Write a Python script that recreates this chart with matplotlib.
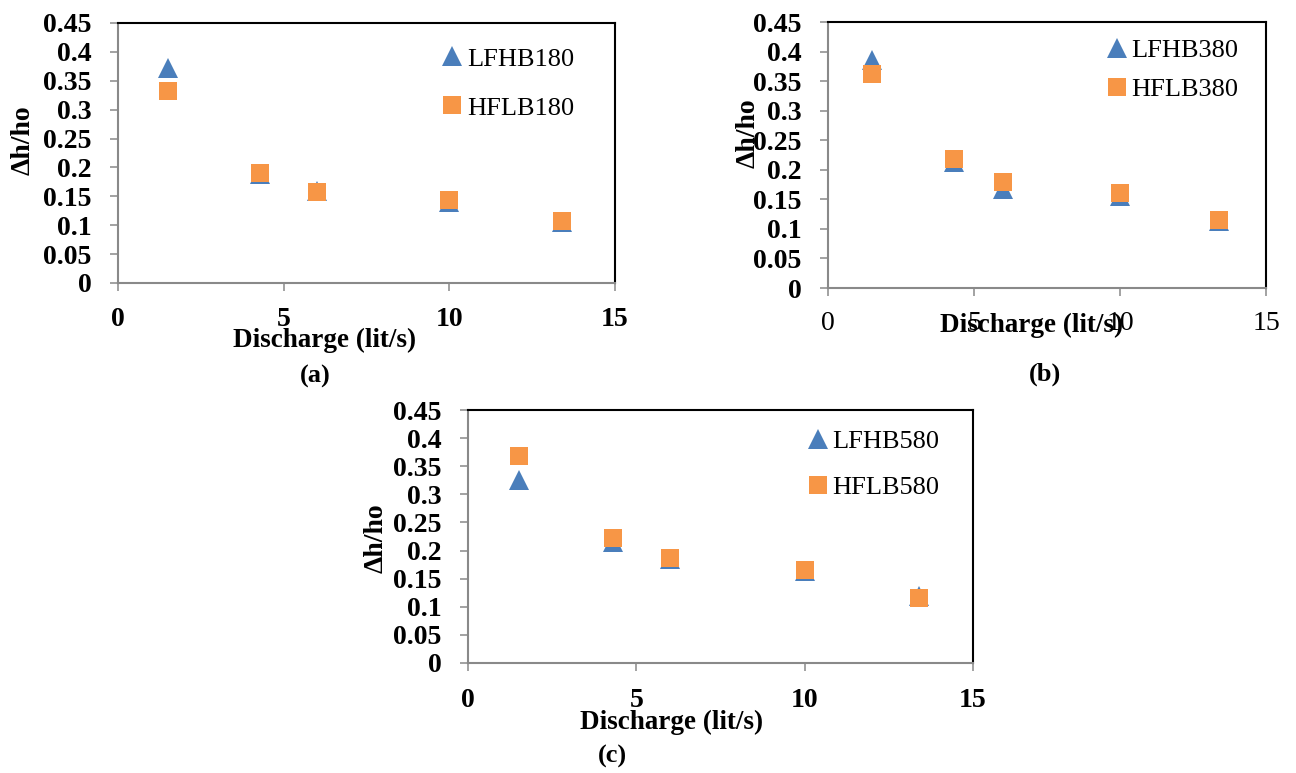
import matplotlib

matplotlib.use("Agg")
import matplotlib.pyplot as plt  # noqa: E402

plt.rcParams["font.family"] = ["Liberation Serif", "DejaVu Serif"]

BLUE = "#4A7EBB"
ORANGE = "#F79646"
GREY = "#898989"

# discharge (lit/s)
Q = [1.5, 4.3, 6.0, 10.0, 13.4]

lfhb180 = [0.372, 0.188, 0.160, 0.141, 0.106]
hflb180 = [0.333, 0.191, 0.158, 0.144, 0.107]
lfhb380 = [0.385, 0.214, 0.168, 0.156, 0.114]
hflb380 = [0.362, 0.218, 0.179, 0.160, 0.115]
lfhb580 = [0.325, 0.215, 0.185, 0.163, 0.119]
hflb580 = [0.369, 0.222, 0.187, 0.165, 0.116]

xticks = [0, 5, 10, 15]
yticks = [0, 0.05, 0.1, 0.15, 0.2, 0.25, 0.3, 0.35, 0.4, 0.45]
ytick_labels = ["0", "0.05", "0.1", "0.15", "0.2", "0.25", "0.3", "0.35", "0.4", "0.45"]

W, H = 1296, 773


def box(l, r, t, b):
    # pixel box -> figure fraction rect
    return [l / W, 1 - b / H, (r - l) / W, (b - t) / H]


def fx(x):
    return x / W


def fy(y):
    return 1 - y / H


fig = plt.figure(figsize=(W / 100, H / 100), dpi=100)

panels = [
    dict(rect=box(118, 615, 23, 283), tri=lfhb180, sq=hflb180,
         names=("LFHB180", "HFLB180"), leg=(0.654, 0.768), lsp=0.97,
         ylab=(23, 140), xlab=(325, 340), cap=(315, 376), cap_txt="(a)",
         xbold=True, xpad=11.5),
    dict(rect=box(828, 1266, 22, 288), tri=lfhb380, sq=hflb380,
         names=("LFHB380", "HFLB380"), leg=(0.638, 0.82), lsp=0.61,
         ylab=(748, 133), xlab=(1032, 325), cap=(1045, 374), cap_txt="(b)",
         xbold=False, xpad=10.5),
    dict(rect=box(468, 973, 410, 663), tri=lfhb580, sq=hflb580,
         names=("LFHB580", "HFLB580"), leg=(0.675, 0.785), lsp=0.83,
         ylab=(376, 538), xlab=(672, 722), cap=(612, 756), cap_txt="(c)",
         xbold=True, xpad=12),
]

for p in panels:
    ax = fig.add_axes(p["rect"])
    ax.plot(Q, p["tri"], "^", color=BLUE, ms=14, mew=0, zorder=3, label=p["names"][0])
    ax.plot(Q, p["sq"], "s", color=ORANGE, ms=13.5, mew=0, zorder=4, label=p["names"][1])
    ax.set_xlim(0, 15)
    ax.set_ylim(0, 0.45)
    ax.set_xticks(xticks)
    ax.set_xticklabels([str(t) for t in xticks], fontsize=20,
                       fontweight="bold" if p["xbold"] else "normal")
    ax.set_yticks(yticks)
    ax.set_yticklabels(ytick_labels, fontsize=20, fontweight="bold")
    ax.tick_params(axis="both", direction="out", length=6, width=1.1, color=GREY)
    ax.tick_params(axis="y", pad=13)
    ax.tick_params(axis="x", pad=p["xpad"])
    for s in ("left", "bottom"):
        ax.spines[s].set_color(GREY)
        ax.spines[s].set_linewidth(1.5)
    for s in ("top", "right"):
        ax.spines[s].set_color("black")
        ax.spines[s].set_linewidth(1.5)

    ax.legend(loc="center left", bbox_to_anchor=p["leg"], frameon=False,
              fontsize=19, handlelength=0.7, handletextpad=0.2,
              labelspacing=p["lsp"], borderpad=0, borderaxespad=0)

    fig.text(fx(p["ylab"][0]), fy(p["ylab"][1]), "\u0394h/ho", rotation=90,
             ha="center", va="center", fontsize=20, fontweight="bold")
    fig.text(fx(p["xlab"][0]), fy(p["xlab"][1]), "Discharge (lit/s)",
             ha="center", va="center", fontsize=19.5, fontweight="bold")
    fig.text(fx(p["cap"][0]), fy(p["cap"][1]), p["cap_txt"],
             ha="center", va="center", fontsize=19, fontweight="bold")

fig.savefig("out.png", dpi=100)
